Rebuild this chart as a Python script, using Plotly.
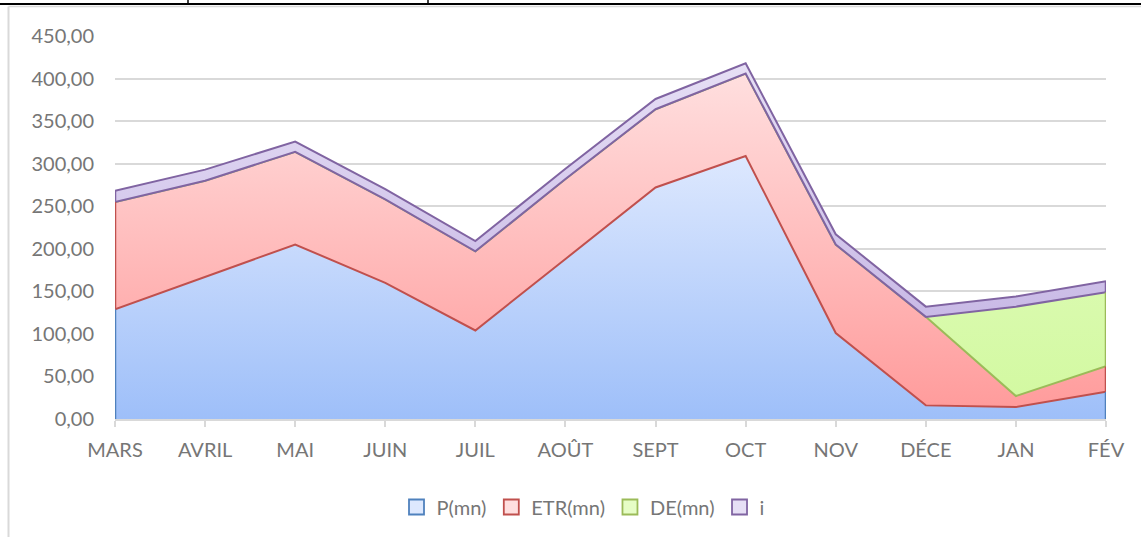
import plotly.graph_objects as go

# données (valeurs par mois, empilées)
mois = ["MARS", "AVRIL", "MAI", "JUIN", "JUIL", "AOÛT", "SEPT", "OCT", "NOV", "DÉCE", "JAN", "FÉV"]
p_mn = [129, 167, 205, 160, 104, 188, 272, 309, 101, 16, 14, 32]
etr_mn = [126, 113, 109, 98, 93, 94, 92, 97, 104, 104, 13, 30]
de_mn = [0, 0, 0, 0, 0, 0, 0, 0, 0, 0, 105, 87]
i_mn = [13, 13, 12, 12, 12, 12, 12, 12, 12, 12, 12, 13]

noms = ["P(mn)", "ETR(mn)", "DE(mn)", "i"]
series = [p_mn, etr_mn, de_mn, i_mn]

# style : (bord, ligne du haut, couleur bas, couleur haut)
styles = [
    ("#4f81bd", "#c0504d", "#9ebff9", "#dde8fe"),
    ("#c0504d", "#9bbb59", "#ff9c9c", "#ffdfdf"),
    ("#9bbb59", "#8064a2", "#d3f9a2", "#e6fdc6"),
    ("#8064a2", "#8064a2", "#c9bae6", "#e6dff5"),
]

W, H = 1141, 537
ML, MR, MT, MB = 115, 35, 36, 117


def px_x(v):
    return (v - ML) / (W - ML - MR)


def px_y(v):
    return (H - MB - v) / (H - MT - MB)


fig = go.Figure()

bas = [0] * len(mois)
bords = []
for nom, vals, st in zip(noms, series, styles):
    haut = [b + v for b, v in zip(bas, vals)]
    lo = min(b for b, v in zip(bas, vals) if v > 0)
    fig.add_trace(go.Scatter(
        x=mois, y=vals, name=nom, stackgroup="one", mode="lines",
        line=dict(color=st[1], width=2),
        fillgradient=dict(type="vertical", start=lo, stop=max(haut),
                          colorscale=[[0, st[2]], [1, st[3]]]),
        showlegend=False, hoverinfo="skip",
    ))
    for k in (0, len(mois) - 1):
        if vals[k] > 0:
            bords.append((mois[k], bas[k], haut[k], st[0]))
    bas = haut

# petits bords verticaux aux extrémités
for m, y0, y1, c in bords:
    fig.add_trace(go.Scatter(x=[m, m], y=[y0, y1], mode="lines",
                             line=dict(color=c, width=2.5),
                             showlegend=False, hoverinfo="skip"))

# entrées de légende
for nom, st in zip(noms, styles):
    fig.add_trace(go.Scatter(
        x=[None], y=[None], mode="markers", name=nom,
        marker=dict(symbol="square", size=15, color=st[3],
                    line=dict(color=st[0], width=1.8)),
    ))

gris = "#767676"
fig.update_layout(
    width=W, height=H,
    margin=dict(l=ML, r=MR, t=MT, b=MB),
    paper_bgcolor="white", plot_bgcolor="white",
    separators=", ",
    font=dict(family="Lato, Open Sans, sans-serif", size=20, color=gris),
    showlegend=True,
    legend=dict(orientation="h", x=px_x(583), xanchor="center",
                y=px_y(507), yanchor="middle", traceorder="normal",
                font=dict(size=20, color=gris), itemsizing="trace"),
    xaxis=dict(range=[0, len(mois) - 1], showgrid=False,
               showline=True, linecolor="#d9d9d9", linewidth=1.5,
               ticks="outside", ticklen=6, tickcolor="#d9d9d9", tickwidth=1.5,
               ticklabelstandoff=6),
    yaxis=dict(range=[0, 450], dtick=50, tickformat=".2f",
               showgrid=True, gridcolor="#d9d9d9", gridwidth=1.5,
               zeroline=False, showline=False, ticks="",
               ticklabelstandoff=20),
)

# cadre du graphique et trait du tableau au-dessus
fig.add_shape(type="line", xref="paper", yref="paper",
              x0=px_x(0), x1=px_x(W), y0=px_y(4), y1=px_y(4),
              line=dict(color="black", width=2))
for xv in (188, 428):
    fig.add_shape(type="line", xref="paper", yref="paper",
                  x0=px_x(xv), x1=px_x(xv), y0=px_y(0), y1=px_y(4),
                  line=dict(color="black", width=1.5))
fig.add_shape(type="line", xref="paper", yref="paper",
              x0=px_x(8.5), x1=px_x(W + 5), y0=px_y(6.5), y1=px_y(6.5),
              line=dict(color="#d9d9d9", width=1.5))
fig.add_shape(type="line", xref="paper", yref="paper",
              x0=px_x(8.5), x1=px_x(8.5), y0=px_y(6.5), y1=px_y(H + 5),
              line=dict(color="#d9d9d9", width=2))

fig.write_html("out.html", config={"displayModeBar": False},
               post_script="document.body.style.margin='0';")
